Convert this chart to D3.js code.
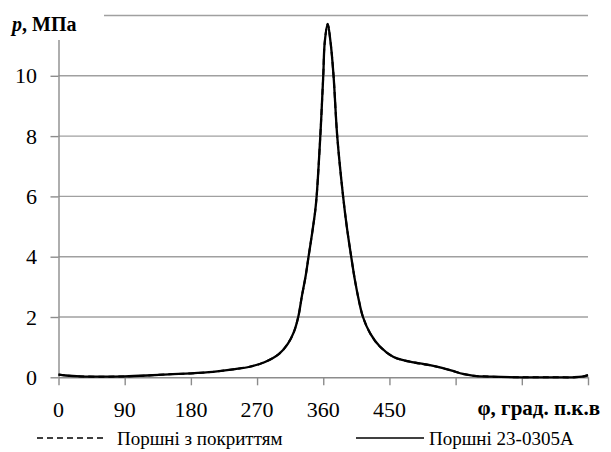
<!DOCTYPE html>
<html>
<head>
<meta charset="utf-8">
<script src="https://cdn.jsdelivr.net/npm/d3@7"></script>
</head>
<body style="margin:0">
<svg id="chart" width="611" height="452"></svg>
<script>
// Crank angle, degrees
const angle = [0, 10, 30, 60, 90, 120, 150, 180, 210, 240, 260, 280, 300, 312, 320, 326, 331, 336, 340, 345, 349, 351, 356, 360, 362, 366, 370, 374, 379, 387, 392, 398, 403, 408, 414, 424, 437, 455, 470, 491, 505, 520, 535, 550, 565, 590, 630, 670, 700, 712, 720];
// Cylinder pressure, MPa, coated pistons
const pressureCoated = [0.09, 0.06, 0.03, 0.02, 0.03, 0.06, 0.10, 0.13, 0.18, 0.27, 0.35, 0.50, 0.78, 1.12, 1.50, 2.00, 2.70, 3.35, 4.00, 4.80, 5.50, 6.00, 8.00, 10.00, 11.10, 11.72, 11.10, 10.00, 8.00, 6.00, 5.00, 4.00, 3.23, 2.60, 2.00, 1.45, 1.02, 0.68, 0.56, 0.46, 0.40, 0.32, 0.22, 0.11, 0.05, 0.02, 0.00, 0.00, 0.00, 0.02, 0.07];
// Cylinder pressure, MPa, pistons 23-0305A
const pressureStock = [0.09, 0.06, 0.03, 0.02, 0.03, 0.06, 0.10, 0.13, 0.18, 0.27, 0.35, 0.50, 0.78, 1.12, 1.50, 2.00, 2.70, 3.35, 4.00, 4.80, 5.50, 6.00, 8.00, 10.00, 11.10, 11.72, 11.10, 10.00, 8.00, 6.00, 5.00, 4.00, 3.23, 2.60, 2.00, 1.45, 1.02, 0.68, 0.56, 0.46, 0.40, 0.32, 0.22, 0.11, 0.05, 0.02, 0.00, 0.00, 0.00, 0.02, 0.07];

const xTicks = [0, 90, 180, 270, 360, 450, 540, 630, 720];
const xTickLabels = ["0", "90", "180", "270", "360", "450", "", "", ""];
const yTicks = [0, 2, 4, 6, 8, 10, 12];
const yTickLabels = ["0", "2", "4", "6", "8", "10", ""];
const seriesNames = ["Поршні з покриттям", "Поршні 23-0305А"];

const svg = d3.select("#chart");
const x = d3.scaleLinear().domain([0, 720]).range([58.5, 588]);
const y = d3.scaleLinear().domain([0, 12]).range([377.3, 15.5]);

const gridColor = "#a0a0a0";
const axisColor = "#8c8c8c";

// horizontal gridlines
svg.append("g").selectAll("line")
  .data(yTicks.filter(d => d > 0))
  .join("line")
  .attr("x1", x(0)).attr("x2", x(720))
  .attr("y1", d => y(d)).attr("y2", d => y(d))
  .attr("stroke", gridColor).attr("stroke-width", 1.4);

// axes: lines and ticks from d3, labels placed as plain text below
const gy = svg.append("g").attr("transform", `translate(${x(0)},0)`)
  .call(d3.axisLeft(y).tickValues(yTicks).tickFormat("").tickSize(8).tickSizeOuter(0));
const gx = svg.append("g").attr("transform", `translate(0,${y(0)})`)
  .call(d3.axisBottom(x).tickValues(xTicks).tickFormat("").tickSize(8).tickSizeOuter(0));
[gx, gy].forEach(g => {
  g.select(".domain").attr("stroke", axisColor).attr("stroke-width", 1.4);
  g.selectAll(".tick line").attr("stroke", axisColor).attr("stroke-width", 1.4);
  g.selectAll(".tick text").remove();
});

function label(px, py, str, size, anchor) {
  return svg.append("text").attr("x", px).attr("y", py)
    .attr("font-size", size).attr("text-anchor", anchor)
    .style("font-family", '"Times New Roman"')
    .text(str);
}

yTicks.forEach((v, i) => { if (yTickLabels[i]) label(37, y(v) + 7.5, yTickLabels[i], 22, "end"); });
xTicks.forEach((v, i) => { if (xTickLabels[i]) label(x(v), y(0) + 40, xTickLabels[i], 22, "middle"); });

// y axis title over the top end of the axis
svg.append("rect").attr("x", 0).attr("y", 0).attr("width", 104).attr("height", 40).attr("fill", "#fff");
const yt = svg.append("text").attr("x", 12).attr("y", 31)
  .attr("font-size", 20).attr("font-weight", "bold")
  .style("font-family", '"Times New Roman"');
yt.append("tspan").attr("font-style", "italic").text("p");
yt.append("tspan").text(", МПа");

// x axis title
label(600, 415, "φ, град. п.к.в", 21, "end").attr("font-weight", "bold");

// pressure curves
const line = d3.line().x(d => x(d[0])).y(d => y(d[1])).curve(d3.curveCatmullRom.alpha(0.5));
svg.append("path").datum(angle.map((a, i) => [a, pressureCoated[i]]))
  .attr("d", line).attr("fill", "none").attr("stroke", "#000")
  .attr("stroke-width", 2).attr("stroke-dasharray", "6,4");
svg.append("path").datum(angle.map((a, i) => [a, pressureStock[i]]))
  .attr("d", line).attr("fill", "none").attr("stroke", "#000")
  .attr("stroke-width", 2.3).attr("stroke-linejoin", "round");

// legend
const legendItems = [
  { x1: 37, x2: 104, tx: 117, dash: "6,4" },
  { x1: 356, x2: 424, tx: 429, dash: null }
];
legendItems.forEach((it, i) => {
  svg.append("line").attr("x1", it.x1).attr("x2", it.x2)
    .attr("y1", 438).attr("y2", 438)
    .attr("stroke", "#000").attr("stroke-width", 1.6)
    .attr("stroke-dasharray", it.dash);
  label(it.tx, 445, seriesNames[i], 19, "start");
});
</script>
</body>
</html>
